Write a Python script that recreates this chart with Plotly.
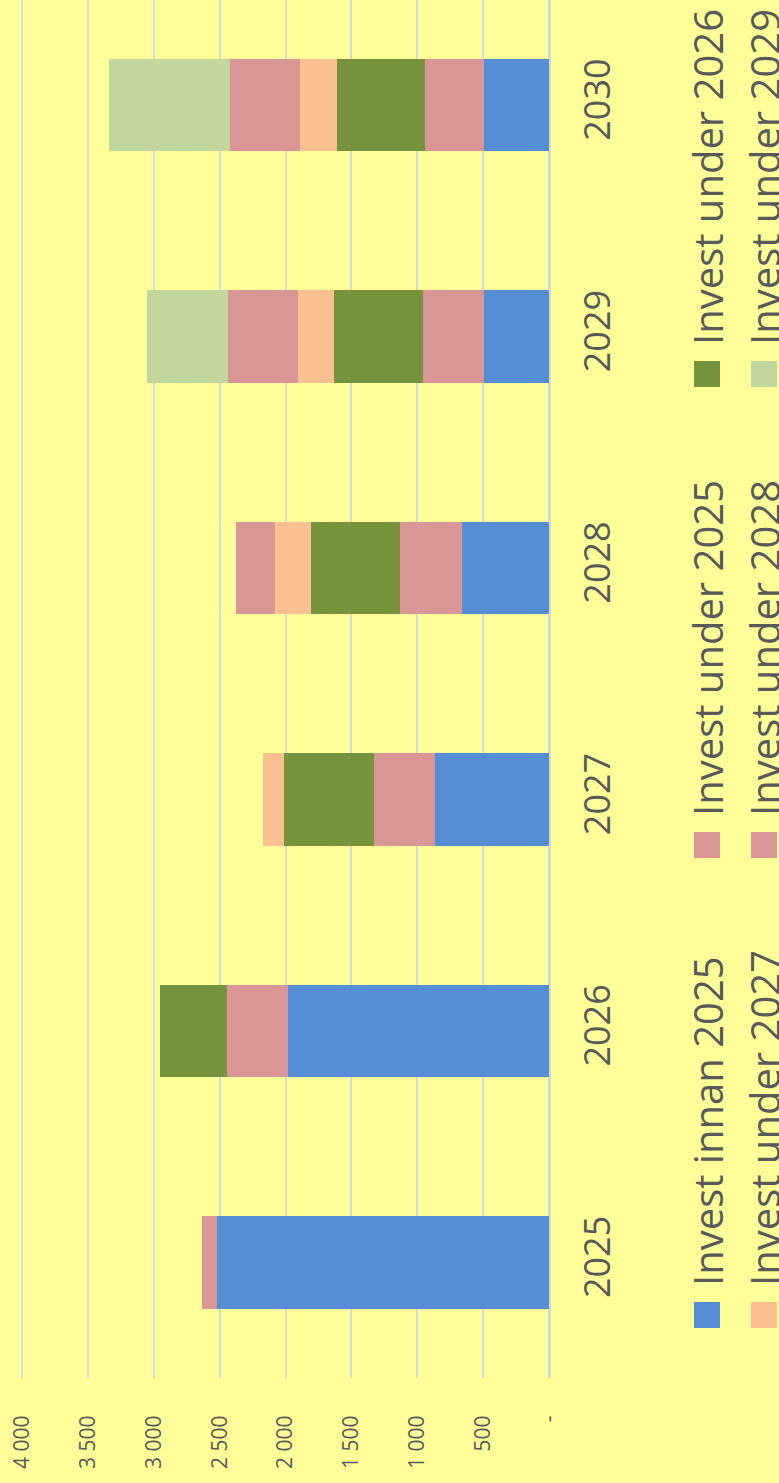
import plotly.graph_objects as go

years = ["2025", "2026", "2027", "2028", "2029", "2030"]
series_names = ["Invest innan 2025", "Invest under 2025", "Invest under 2026",
                "Invest under 2027", "Invest under 2028", "Invest under 2029"]
innan_2025 = [2523, 1983, 865, 662, 491, 493]
under_2025 = [112, 465, 466, 466, 463, 445]
under_2026 = [0, 506, 678, 678, 675, 675]
under_2027 = [0, 0, 162, 273, 275, 275]
under_2028 = [0, 0, 0, 296, 531, 533]
under_2029 = [0, 0, 0, 0, 620, 921]
tick_vals = [0, 500, 1000, 1500, 2000, 2500, 3000, 3500, 4000]
tick_text = ["-", "500", "1 000", "1 500", "2 000", "2 500", "3 000", "3 500", "4 000"]
colors = ["#558ED5", "#D99694", "#77933C", "#FAC090", "#D99694", "#C3D69B"]

all_series = [innan_2025, under_2025, under_2026, under_2027, under_2028, under_2029]

W, H = 779, 1483
ML, MR, MT, MB = 0, 230, 0, 105
PW = W - ML - MR
PH = H - MT - MB
FONT = "Open Sans"
TXT = "#595959"

fig = go.Figure()
for name, vals, col in zip(series_names, all_series, colors):
    fig.add_trace(go.Bar(y=years, x=vals, name=name, orientation="h",
                         marker=dict(color=col, line=dict(width=0)),
                         showlegend=False))

fig.update_layout(
    width=W, height=H,
    margin=dict(l=ML, r=MR, t=MT, b=MB, autoexpand=False),
    barmode="stack", bargap=0.6,
    paper_bgcolor="#FFFF99", plot_bgcolor="#FFFF99",
    font=dict(family=FONT, color=TXT),
    xaxis=dict(range=[4168, 0], tickvals=tick_vals, ticktext=tick_text,
               tickangle=-90, tickfont=dict(size=21, color=TXT, family=FONT),
               showgrid=True, gridcolor="#D9D9D9", gridwidth=2,
               zeroline=True, zerolinecolor="#D9D9D9", zerolinewidth=3,
               ticks="outside", ticklen=28, tickcolor="rgba(0,0,0,0)",
               showline=False, automargin=False),
    yaxis=dict(type="category", range=[-0.5, 5.4536], side="right",
               tickangle=-90, tickfont=dict(size=36, color=TXT, family=FONT),
               showgrid=False, zeroline=False, showline=False,
               ticks="outside", ticklen=17, tickcolor="rgba(0,0,0,0)",
               automargin=False),
)

def px_x(px):
    return (px - ML) / PW

def px_y(py):
    return (MT + PH - py) / PH

# rotated legend: 2 rows x 3 columns
row_x = [(694, 720), (751, 777)]
col_sq = [(1302, 1328), (832, 858), (361, 387)]
for i, (name, col) in enumerate(zip(series_names, colors)):
    r, c = divmod(i, 3)
    x0, x1 = row_x[r]
    y0, y1 = col_sq[c]
    fig.add_shape(type="rect", xref="paper", yref="paper",
                  x0=px_x(x0), x1=px_x(x1), y0=px_y(y1), y1=px_y(y0),
                  fillcolor=col, line=dict(width=0), layer="above")
    fig.add_annotation(xref="paper", yref="paper", x=px_x((x0 + x1) / 2),
                       y=px_y(y0 - 14), text=name, textangle=-90,
                       showarrow=False, xanchor="center", yanchor="bottom",
                       font=dict(size=40, color=TXT, family=FONT))

fig.write_html("out.html",
               config={"displayModeBar": False},
               post_script="document.body.style.margin='0';"
                           "document.body.style.overflow='hidden';"
                           "document.body.style.background='#FFFF99';")
